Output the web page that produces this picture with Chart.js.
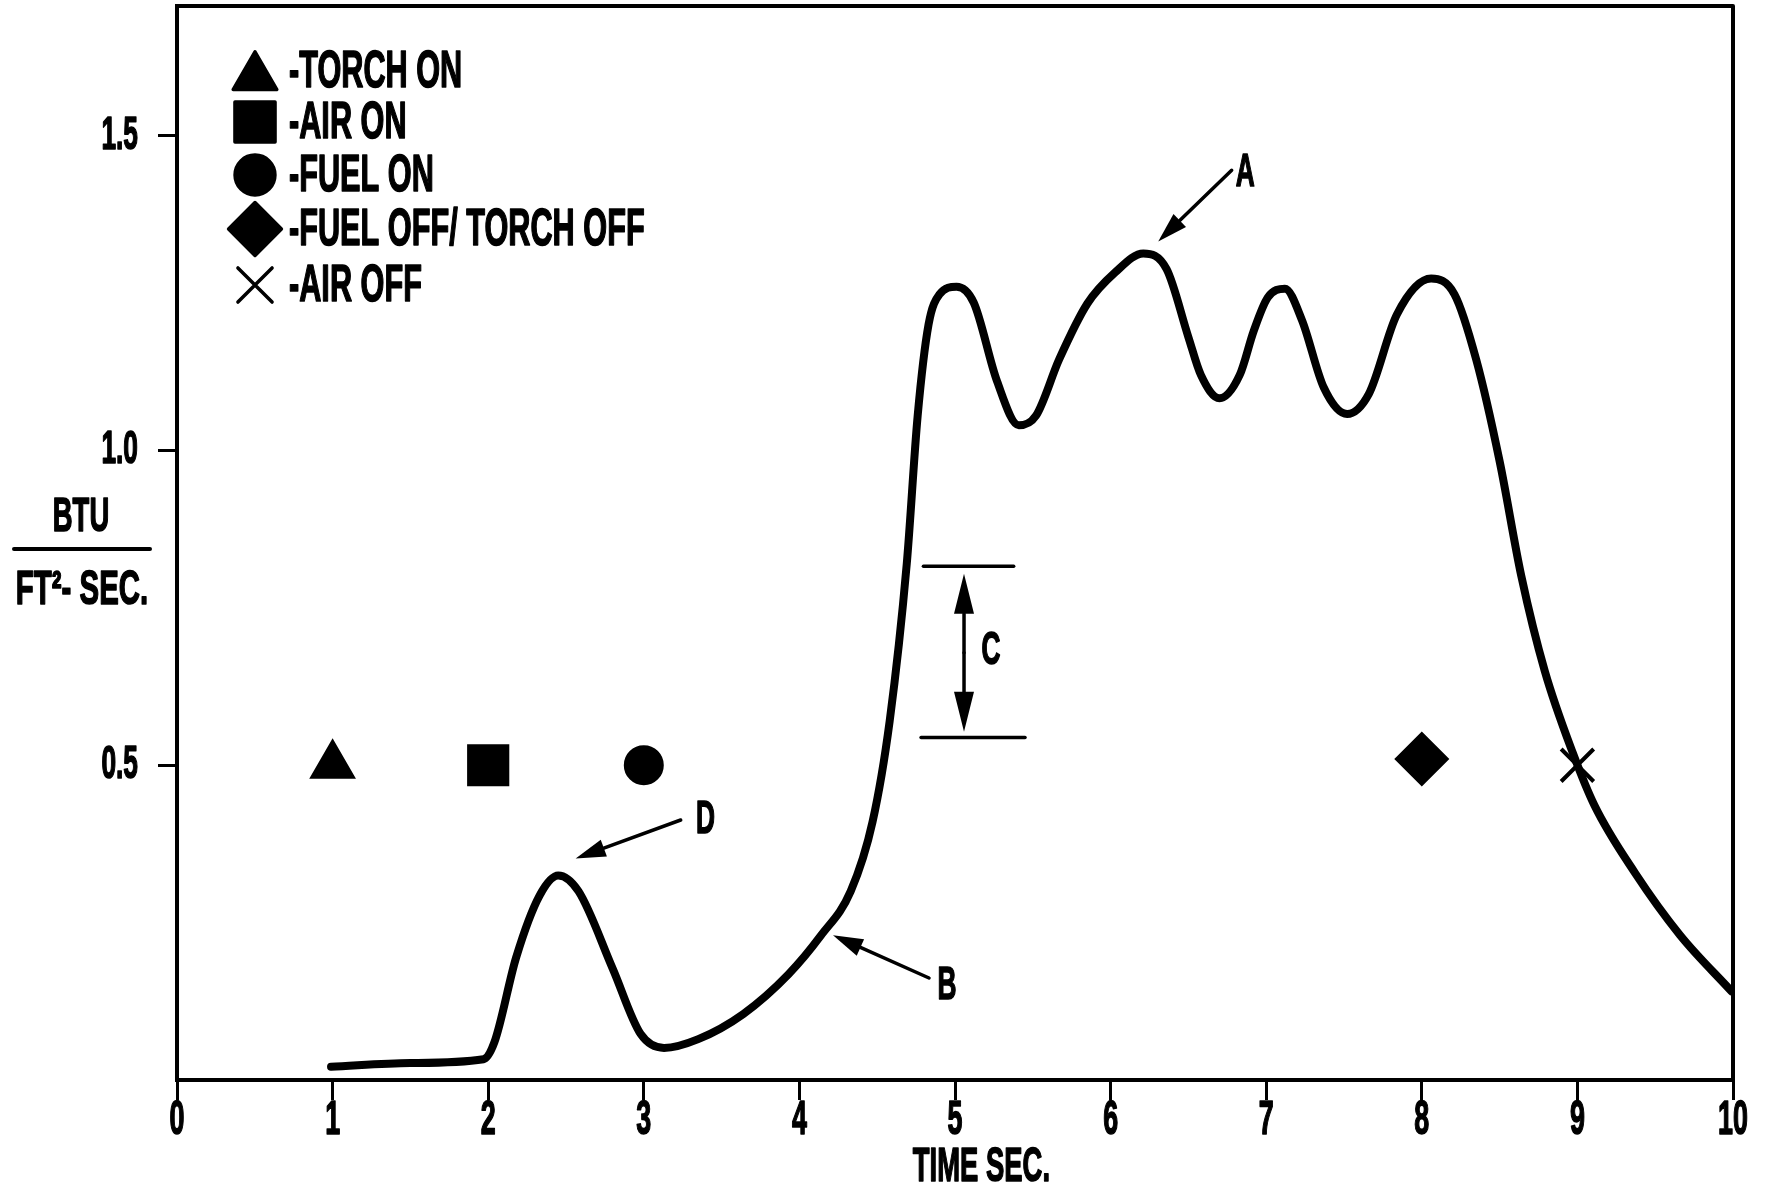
<!DOCTYPE html>
<html>
<head>
<meta charset="utf-8">
<script src="https://cdn.jsdelivr.net/npm/chart.js@4.4.1/dist/chart.umd.min.js"></script>
<style>
html,body{margin:0;padding:0;background:#fff;}
canvas{display:block;}
</style>
</head>
<body>
<canvas id="c" width="1768" height="1188"></canvas>
<script>
// ---------- data ----------
const timeSec = [0.99,1.5,1.97,2.04,2.18,2.33,2.45,2.58,2.80,2.98,3.13,3.35,3.64,3.93,4.14,4.33,4.47,4.58,4.69,4.76,4.83,4.90,5.01,5.12,5.27,5.41,5.52,5.67,5.85,6.03,6.21,6.36,6.50,6.58,6.70,6.83,6.92,7.01,7.12,7.23,7.37,7.52,7.66,7.84,8.06,8.21,8.35,8.50,8.64,8.79,8.97,9.11,9.37,9.66,9.99];
const heatFlux = [0.021,0.027,0.033,0.06,0.195,0.293,0.325,0.30,0.177,0.073,0.051,0.065,0.105,0.168,0.23,0.30,0.41,0.57,0.82,1.055,1.20,1.248,1.26,1.235,1.11,1.04,1.055,1.145,1.233,1.283,1.313,1.288,1.18,1.12,1.083,1.12,1.19,1.243,1.257,1.207,1.10,1.058,1.09,1.216,1.273,1.248,1.144,0.983,0.80,0.65,0.52,0.436,0.329,0.23,0.141];

const eventLabels = ['-TORCH ON','-AIR ON','-FUEL ON','-FUEL OFF/ TORCH OFF','-AIR OFF'];
const eventStyles = ['triangle','rect','circle','rectRot','crossRot'];
const eventX = [1, 2, 3, 8, 9];
const eventY = [0.5, 0.5, 0.5, 0.51, 0.5];

const xTicks = [0,1,2,3,4,5,6,7,8,9,10];
const yTicks = [0.5, 1.0, 1.5];

// annotation arrows
const arrowNames = ['A','D','B'];
const arrowTail = [[6.778,1.445],[3.237,0.413],[4.833,0.162]];
const arrowHead = [[6.306,1.332],[2.562,0.352],[4.216,0.230]];
const arrowLabelPos = [[6.865,1.44],[3.396,0.413],[4.949,0.150]];
// range "C"
const rangeLinesY = [0.816, 0.544];
const rangeLinesX = [[4.797,5.377],[4.782,5.45]];
const rangeArrowX = 5.058;
const rangeArrowY = [0.804, 0.553];
const rangeLabelPos = [5.232, 0.682];

const xTitle = 'TIME SEC.';
const xTitleAt = 5.17;
const yTitleTop = 'BTU';
const yTitleBottom = 'FT\u00B2- SEC.';

// ---------- condensed text ----------
let SX = 0.56;
const FONT = '"Liberation Sans", Arial, sans-serif';
const canvas = document.getElementById('c');
const ctx = canvas.getContext('2d');
const origFill = ctx.fillText.bind(ctx);
const origStroke = ctx.strokeText.bind(ctx);
const origMeasure = ctx.measureText.bind(ctx);
ctx.fillText = function(t, x, y){
  ctx.save(); ctx.translate(x, y); ctx.scale(SX, 1);
  origFill(t, 0, 0);
  ctx.strokeStyle = ctx.fillStyle; ctx.lineWidth = 1.6; ctx.lineJoin = 'round';
  origStroke(t, 0, 0);
  ctx.restore();
};
ctx.measureText = function(t){ const m = origMeasure(t); return {width: m.width * SX, actualBoundingBoxAscent: m.actualBoundingBoxAscent, actualBoundingBoxDescent: m.actualBoundingBoxDescent}; };

function drawText(c, txt, x, y, size, align, sx){
  const keep = SX;
  if (sx) SX = sx;
  c.font = 'bold ' + size + 'px ' + FONT;
  c.fillStyle = '#000';
  c.textAlign = align || 'center';
  c.textBaseline = 'middle';
  c.fillText(txt, x, y);
  SX = keep;
}

function arrow(c, x1, y1, x2, y2, len, halfW){
  const a = Math.atan2(y2 - y1, x2 - x1);
  const bx = x2 - Math.cos(a) * len, by = y2 - Math.sin(a) * len;
  c.beginPath(); c.moveTo(x1, y1); c.lineTo(bx, by); c.stroke();
  c.beginPath();
  c.moveTo(x2, y2);
  c.lineTo(bx + Math.sin(a) * halfW, by - Math.cos(a) * halfW);
  c.lineTo(bx - Math.sin(a) * halfW, by + Math.cos(a) * halfW);
  c.closePath(); c.fill();
}

const markerOpts = {
  triangle: {radius: 24, borderWidth: 3},
  rect: {radius: 27, borderWidth: 4},
  circle: {radius: 19, borderWidth: 2},
  rectRot: {radius: 24, borderWidth: 5},
  crossRot: {radius: 23, borderWidth: 4}
};

const annotPlugin = {
  id: 'annot',
  afterDatasetsDraw(chart){
    const c = chart.ctx, xs = chart.scales.x, ys = chart.scales.y, ca = chart.chartArea;
    c.save();
    c.strokeStyle = '#000'; c.fillStyle = '#000'; c.lineCap = 'round'; c.lineJoin = 'round';
    c.lineWidth = 3.5;
    arrowNames.forEach((n, i) => {
      arrow(c, xs.getPixelForValue(arrowTail[i][0]), ys.getPixelForValue(arrowTail[i][1]),
               xs.getPixelForValue(arrowHead[i][0]), ys.getPixelForValue(arrowHead[i][1]), 30, 9);
      drawText(c, n, xs.getPixelForValue(arrowLabelPos[i][0]), ys.getPixelForValue(arrowLabelPos[i][1]), 47);
    });
    c.lineWidth = 3.5;
    rangeLinesY.forEach((v, i) => {
      const py = ys.getPixelForValue(v);
      c.beginPath(); c.moveTo(xs.getPixelForValue(rangeLinesX[i][0]), py); c.lineTo(xs.getPixelForValue(rangeLinesX[i][1]), py); c.stroke();
    });
    const ax = xs.getPixelForValue(rangeArrowX);
    const ay1 = ys.getPixelForValue(rangeArrowY[0]), ay2 = ys.getPixelForValue(rangeArrowY[1]);
    const my = (ay1 + ay2) / 2;
    arrow(c, ax, my, ax, ay1, 40, 10);
    arrow(c, ax, my, ax, ay2, 40, 10);
    drawText(c, 'C', xs.getPixelForValue(rangeLabelPos[0]), ys.getPixelForValue(rangeLabelPos[1]), 47);

    // legend
    const lx = ca.left + 78, tx = ca.left + 112;
    const rowsY = [71, 122, 175, 229, 285];
    chart.data.datasets.forEach((ds, i) => {
      if (i === 0) return;
      const k = i - 1;
      const st = ds.pointStyle;
      const o = markerOpts[st];
      const sz = st === 'rectRot' ? 1.1 : 1.05;
      Chart.helpers.drawPoint(c, {pointStyle: st, rotation: 0, radius: o.radius * sz, borderWidth: o.borderWidth}, lx, rowsY[k] + (st === 'triangle' ? 6 : 0));
      drawText(c, ds.label, tx, rowsY[k] + 2, 52, 'left', 0.59);
    });

    // axis titles
    drawText(c, xTitle, xs.getPixelForValue(xTitleAt), ca.bottom + 87, 49);
    drawText(c, yTitleTop, 81, 517, 49);
    c.lineWidth = 4;
    c.beginPath(); c.moveTo(14, 549); c.lineTo(150, 549); c.stroke();
    drawText(c, yTitleBottom, 82, 590, 49, 'center', 0.6);

    // frame: top and right
    c.lineWidth = 4; c.lineCap = 'butt';
    c.beginPath(); c.moveTo(ca.left - 2, ca.top); c.lineTo(ca.right, ca.top); c.lineTo(ca.right, ca.bottom); c.stroke();
    c.restore();
  }
};

const datasets = [{
  label: 'heat flux',
  data: timeSec.map((t, i) => ({x: t, y: heatFlux[i]})),
  borderColor: '#000', borderWidth: 8, pointRadius: 0, fill: false,
  cubicInterpolationMode: 'monotone', borderCapStyle: 'round', borderJoinStyle: 'round', order: 1
}];
eventLabels.forEach((lab, i) => {
  const o = markerOpts[eventStyles[i]];
  datasets.push({
    label: lab, type: 'scatter',
    data: [{x: eventX[i], y: eventY[i]}],
    pointStyle: eventStyles[i], pointRadius: o.radius, pointBorderWidth: o.borderWidth,
    pointBackgroundColor: '#000', pointBorderColor: '#000', order: 0
  });
});

new Chart(ctx, {
  type: 'line',
  data: {datasets},
  plugins: [annotPlugin],
  options: {
    responsive: false, animation: false, devicePixelRatio: 1,
    layout: {autoPadding: false, padding: {top: 6, right: 35, left: 0, bottom: 0}},
    plugins: {legend: {display: false}, tooltip: {enabled: false}},
    scales: {
      x: {
        type: 'linear', min: 0, max: 10,
        afterBuildTicks: s => { s.ticks = xTicks.map(v => ({value: v})); },
        afterFit: s => { s.height = 108; s.paddingLeft = 0; s.paddingRight = 0; },
        border: {display: true, color: '#000', width: 4},
        grid: {drawOnChartArea: false, drawTicks: true, tickLength: 20, color: '#000', lineWidth: 3},
        ticks: {color: '#000', padding: -8, maxRotation: 0, minRotation: 0, autoSkip: false,
          font: {family: FONT, size: 48, weight: 'bold'}}
      },
      y: {
        type: 'linear', min: 0, max: 1.706,
        afterBuildTicks: s => { s.ticks = yTicks.map(v => ({value: v})); },
        afterFit: s => { s.width = 177; s.paddingTop = 0; s.paddingBottom = 0; },
        border: {display: true, color: '#000', width: 4},
        grid: {drawOnChartArea: false, drawTicks: true, tickLength: 19, color: '#000', lineWidth: 3},
        ticks: {color: '#000', padding: 20, autoSkip: false,
          callback: v => v.toFixed(1),
          font: {family: FONT, size: 47, weight: 'bold'}}
      }
    }
  }
});
</script>
</body>
</html>
